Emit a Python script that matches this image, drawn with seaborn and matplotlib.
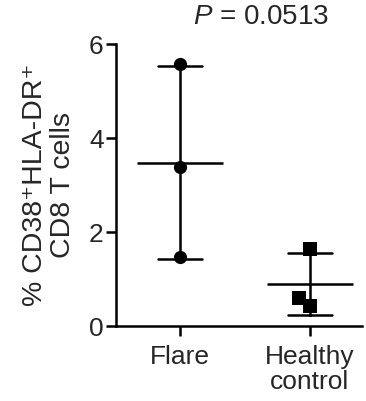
import numpy as np
import pandas as pd
import matplotlib
matplotlib.use("Agg")
import matplotlib.pyplot as plt
import seaborn as sns

# values
groups = ["Flare", "Healthy\ncontrol"]
flare_vals = [5.57, 3.38, 1.47]
healthy_vals = [1.64, 0.60, 0.43]
p_text = "$P$ = 0.0513"

df = pd.DataFrame({
    "group": [groups[0]] * len(flare_vals) + [groups[1]] * len(healthy_vals),
    "value": flare_vals + healthy_vals,
})

sns.set_style("ticks")
plt.rcParams["font.family"] = ["Liberation Sans", "DejaVu Sans"]
plt.rcParams["mathtext.fontset"] = "custom"
plt.rcParams["mathtext.it"] = "Liberation Sans:italic"
plt.rcParams["mathtext.rm"] = "Liberation Sans"

lw = 1.8
fig = plt.figure(figsize=(3.66, 4.01), dpi=100)
ax = fig.add_axes([0.317, 0.187, 0.672, 0.703])

# mean +/- SD
sns.pointplot(data=df, x="group", y="value", order=groups, errorbar="sd",
              capsize=0.34, linestyle="none", marker="_", markersize=62,
              markeredgewidth=lw, color="black", err_kws={"linewidth": lw}, ax=ax)

# individual points
sns.swarmplot(data=df[df["group"] == groups[0]], x="group", y="value", order=groups,
              marker="o", size=9.5, color="black", linewidth=0, zorder=5, ax=ax)
sns.swarmplot(data=df[df["group"] == groups[1]], x="group", y="value", order=groups,
              marker="s", size=9.5, color="black", linewidth=0, zorder=5, ax=ax)

ax.set_xlim(-0.49, 1.40)
ax.set_ylim(0, 6)
ax.set_yticks([0, 2, 4, 6])
ax.set_xlabel("")
ax.set_ylabel("% CD38\u207aHLA-DR\u207a\nCD8 T cells", fontsize=20.5, labelpad=9, linespacing=1.12)
ax.tick_params(axis="both", labelsize=19, width=lw, length=7, color="black", pad=2)
ax.tick_params(axis="x", pad=7)
for lab in ax.get_xticklabels():
    lab.set_linespacing(1.05)
sns.despine(ax=ax)
for s in ["left", "bottom"]:
    ax.spines[s].set_linewidth(lw)
    ax.spines[s].set_color("black")

fig.text(261 / 366, 1 - 17 / 401, p_text, ha="center", va="center", fontsize=20)

fig.savefig("out.png", dpi=100)
